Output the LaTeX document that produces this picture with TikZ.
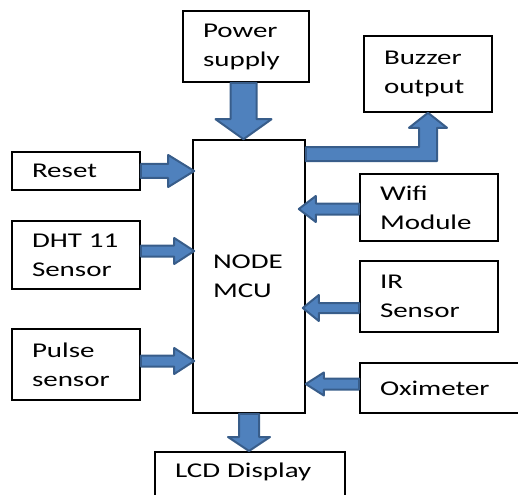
\documentclass[tikz,border=0pt]{standalone}
\usepackage{fontspec}
\setmainfont[FakeStretch=1.38]{Carlito}
\usepackage{tikz}
\usetikzlibrary{calc}

\definecolor{arrowfill}{HTML}{4F81BD}
\definecolor{arrowline}{HTML}{385D8A}

% block arrow: tail, tip, shaft half width, head half width, head length
\newcommand{\blockarrow}[5]{%
  \path (#1) coordinate (ba-tail) (#2) coordinate (ba-tip);
  \path ($(ba-tip)!#5!(ba-tail)$) coordinate (ba-base);
  \filldraw[blockarr] ($(ba-tail)!#3!90:(ba-tip)$) -- ($(ba-base)!#3!90:(ba-tip)$)
    -- ($(ba-base)!#4!90:(ba-tip)$) -- (ba-tip)
    -- ($(ba-base)!#4!-90:(ba-tip)$) -- ($(ba-base)!#3!-90:(ba-tip)$)
    -- ($(ba-tail)!#3!-90:(ba-tip)$) -- cycle;
}

\begin{document}
\begin{tikzpicture}[
    x=1pt, y=-1pt,
    box/.style={
        draw, line width=1.6pt,
        rectangle,
        align=left,
        inner xsep=20pt, inner ysep=0pt,
        font=\fontsize{21}{29}\selectfont
    },
    blockarr/.style={fill=arrowfill, draw=arrowline, line width=2pt, line join=round}
]
\useasboundingbox (0,0) rectangle (518,494);
\clip (0,0) rectangle (518,494);

% ------- Controller and outputs -------
\node[box, text width=72pt, minimum height=273pt] (mcu) at (249,276.5) {NODE\\MCU};
\node[box, text width=86pt, minimum height=71pt] (power) at (246,46.5) {Power\\supply};
\node[box, text width=88pt, minimum height=76pt] (buzzer) at (428,74) {Buzzer\\output};
\node[box, anchor=north, text width=150pt, inner ysep=11pt, text depth=60pt] (lcd)
    at (250,451) {LCD Display};

% ------- Left column -------
\node[box, text width=88pt, minimum height=38pt] (reset) at (76,171) {Reset};
\node[box, text width=88pt, minimum height=68pt] (dht) at (76,255) {DHT 11\\Sensor};
\node[box, text width=88pt, minimum height=71pt] (pulse) at (76,364.5) {Pulse\\sensor};

% ------- Right column -------
\node[box, text width=98pt, minimum height=67pt] (wifi) at (429,207.5) {Wifi\\Module};
\node[box, text width=98pt, minimum height=71pt] (ir) at (429,296.5) {IR\\Sensor};
\node[box, text width=160pt, minimum height=50pt] (oxi) at (460,388) {Oximeter};

% ------- Arrows -------
\blockarrow{$(power.south)+(-2.5,0)$}{$(power.south |- mcu.north)+(-2.5,0)$}{13pt}{28pt}{20pt}
\blockarrow{mcu.south}{mcu.south |- lcd.north}{10pt}{21pt}{14pt}

\blockarrow{reset.east}{$(reset.east -| mcu.west)+(2,0)$}{7pt}{16pt}{26pt}
\blockarrow{$(dht.east)+(0,-4)$}{$(dht.east -| mcu.west)+(2,-4)$}{5.5pt}{13pt}{20pt}
\blockarrow{$(pulse.east)+(0,-3.5)$}{$(pulse.east -| mcu.west)+(2,-3.5)$}{5.5pt}{13pt}{20pt}

\blockarrow{$(wifi.west)+(0,1.5)$}{$(wifi.west -| mcu.east)+(-7,1.5)$}{5.5pt}{13pt}{17pt}
\blockarrow{$(ir.west)+(0,11.5)$}{$(ir.west -| mcu.east)+(-3,11.5)$}{5pt}{13pt}{16pt}
\blockarrow{$(oxi.west)+(0,-4)$}{$(oxi.west -| mcu.east)+(0,-4)$}{5.5pt}{11.5pt}{18pt}

% elbow arrow to the buzzer
\filldraw[blockarr] let \p1=($(mcu.north east)+(0,15)$), \p2=(buzzer.south) in
    (\x1,\y1+7pt) -- (\x2-9pt,\y1+7pt) -- (\x2-9pt,\y2-15pt) -- (\x2-19pt,\y2-15pt)
    -- (\p2) -- (\x2+19pt,\y2-15pt) -- (\x2+9pt,\y2-15pt) -- (\x2+9pt,\y1-7pt)
    -- (\x1,\y1-7pt) -- cycle;
\end{tikzpicture}
\end{document}
